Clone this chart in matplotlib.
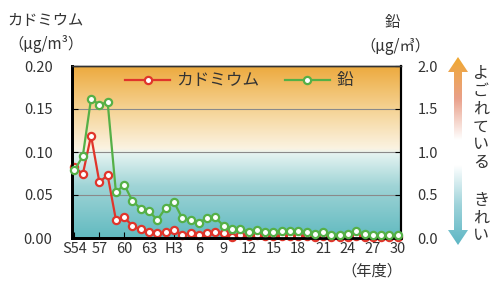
import matplotlib
matplotlib.use("Agg")
import matplotlib.pyplot as plt
import numpy as np
from matplotlib.colors import LinearSegmentedColormap
from matplotlib.path import Path
from matplotlib.patches import PathPatch

plt.rcParams['font.family'] = ['Noto Sans CJK JP', 'DejaVu Sans']

# ---- data ----
years = list(range(1979, 2019))  # S54 .. H30
cadmium = [0.083, 0.074, 0.119, 0.065, 0.073, 0.021, 0.024, 0.014, 0.010, 0.0066,
           0.0055, 0.0066, 0.0093, 0.0035, 0.0055, 0.0035, 0.0055, 0.0073, 0.0055, 0.0015,
           0.003, 0.002, 0.003, 0.002, 0.002, 0.002, 0.0025, 0.002, 0.002, 0.0015,
           0.002, 0.0015, 0.0015, 0.0015, 0.002, 0.0015, 0.001, 0.001, 0.001, 0.001]
lead = [0.79, 0.95, 1.62, 1.55, 1.58, 0.53, 0.62, 0.43, 0.34, 0.31,
        0.21, 0.35, 0.42, 0.23, 0.21, 0.18, 0.23, 0.24, 0.14, 0.10,
        0.11, 0.07, 0.09, 0.07, 0.07, 0.08, 0.08, 0.08, 0.07, 0.05,
        0.07, 0.04, 0.04, 0.05, 0.08, 0.05, 0.03, 0.03, 0.03, 0.03]
xtick_years = list(range(1979, 2019, 3))
xtick_labels = ['S54', '57', '60', '63', 'H3', '6', '9', '12', '15', '18', '21', '24', '27', '30']
left_ticks = [0.00, 0.05, 0.10, 0.15, 0.20]
right_ticks = [0.0, 0.5, 1.0, 1.5, 2.0]

W, H = 491, 287
fig = plt.figure(figsize=(W / 100, H / 100), dpi=100)

def fx(px):
    return px / W

def fy(py):
    return 1 - py / H

L, R, T, B = 72, 401, 66, 238
ax = fig.add_axes([fx(L), fy(B), fx(R) - fx(L), fy(T) - fy(B)])

# background gradient
bg = LinearSegmentedColormap.from_list('bg', [
    (0.0, '#62BAC0'), (0.3, '#9FD4D6'), (0.49, '#E4F3F1'),
    (0.52, '#FBF3E2'), (0.75, '#F5D394'), (1.0, '#EDAA3E')])
grad = np.linspace(0, 1, 256).reshape(-1, 1)
ax.imshow(grad, cmap=bg, aspect='auto', origin='lower',
          extent=[years[0] - 0.3, years[-1] + 0.4, 0, 0.2], zorder=0)

ax2 = ax.twinx()
red = '#E0352B'
green = '#55B047'
ax.plot(years, cadmium, color=red, lw=1.6, marker='o', ms=5.2, mfc='white',
        mec=red, mew=1.6, zorder=4, clip_on=False, label='カドミウム')
ax2.plot(years, lead, color=green, lw=1.6, marker='o', ms=5.2, mfc='white',
         mec=green, mew=1.6, zorder=3, clip_on=False, label='鉛')

ax.set_xlim(years[0] - 0.3, years[-1] + 0.4)
ax.set_ylim(0, 0.2)
ax2.set_ylim(0, 2.0)
for yv in [0.05, 0.10, 0.15]:
    ax.axhline(yv, color='#8A8A8A', lw=0.8, zorder=1)

ax.set_yticks(left_ticks)
ax.set_yticklabels([f'{v:.2f}' for v in left_ticks])
ax2.set_yticks(right_ticks)
ax2.set_yticklabels([f'{v:.1f}' for v in right_ticks])
ax.set_xticks(xtick_years)
ax.set_xticklabels(xtick_labels)

ax.tick_params(axis='y', direction='in', length=4, width=0.8, pad=14,
               labelsize=10.5, labelcolor='#333333')
ax2.tick_params(axis='y', direction='in', length=4, width=0.8, pad=12,
                labelsize=10.5, labelcolor='#333333')
ax.tick_params(axis='x', direction='in', length=4, width=0.8, pad=3,
               labelsize=10.5, labelcolor='#333333')

for a in (ax, ax2):
    a.spines['left'].set_linewidth(2.0)
    a.spines['bottom'].set_linewidth(2.0)
    a.spines['right'].set_linewidth(1.5)
    a.spines['top'].set_linewidth(1.0)
    a.spines['top'].set_color('#333333')
ax2.patch.set_visible(False)

h1, l1 = ax.get_legend_handles_labels()
h2, l2 = ax2.get_legend_handles_labels()
ax2.legend(h1 + h2, l1 + l2, ncol=2, frameon=False, loc='center left',
           bbox_to_anchor=(fx(125), fy(81)), bbox_transform=fig.transFigure,
           fontsize=12, handlelength=2.7, handletextpad=0.4, columnspacing=1.5,
           borderpad=0, borderaxespad=0, labelcolor='#333333')

tc = '#333333'
fig.text(fx(45), fy(20), 'カドミウム', ha='center', va='center', fontsize=11, color=tc)
fig.text(fx(46), fy(44), '（μg/m³）', ha='center', va='center', fontsize=11, color=tc)
fig.text(fx(392), fy(22), '鉛', ha='center', va='center', fontsize=11, color=tc)
fig.text(fx(395), fy(46), '（μg/㎥）', ha='center', va='center', fontsize=11, color=tc)
fig.text(fx(372), fy(271), '（年度）', ha='center', va='center', fontsize=11, color=tc)

# decorative arrows
ov = fig.add_axes([0, 0, 1, 1])
ov.set_xlim(0, W)
ov.set_ylim(H, 0)
ov.axis('off')

def arrow_path(cx, y_tail, y_tip, shaft_w, head_w, head_h):
    s = 1 if y_tip > y_tail else -1
    yb = y_tip - s * head_h
    verts = [(cx - shaft_w / 2, y_tail), (cx - shaft_w / 2, yb), (cx - head_w / 2, yb),
             (cx, y_tip), (cx + head_w / 2, yb), (cx + shaft_w / 2, yb),
             (cx + shaft_w / 2, y_tail), (cx - shaft_w / 2, y_tail)]
    codes = [Path.MOVETO] + [Path.LINETO] * 6 + [Path.CLOSEPOLY]
    return Path(verts, codes)

up_cm = LinearSegmentedColormap.from_list('up', ['#FFFFFF', '#E9A08A', '#F0A830'])
dn_cm = LinearSegmentedColormap.from_list('dn', ['#FFFFFF', '#9ED3DA', '#5DB6C4'])
cx = 458
p_up = arrow_path(cx, 140, 57, 8, 20, 15)
im = ov.imshow(np.linspace(0, 1, 200).reshape(-1, 1), cmap=up_cm, aspect='auto',
               origin='lower', extent=[cx - 12, cx + 12, 140, 57])
im.set_clip_path(PathPatch(p_up, transform=ov.transData))
p_dn = arrow_path(cx, 165, 245, 8, 20, 15)
im2 = ov.imshow(np.linspace(0, 1, 200).reshape(-1, 1), cmap=dn_cm, aspect='auto',
                origin='lower', extent=[cx - 12, cx + 12, 165, 245])
im2.set_clip_path(PathPatch(p_dn, transform=ov.transData))

fig.text(fx(481), fy(118), 'よ\nご\nれ\nて\nい\nる', ha='center', va='center',
         fontsize=11.5, color=tc, linespacing=1.05)
fig.text(fx(481), fy(218), 'き\nれ\nい', ha='center', va='center',
         fontsize=11.5, color=tc, linespacing=1.05)

fig.savefig('out.png', dpi=100)
